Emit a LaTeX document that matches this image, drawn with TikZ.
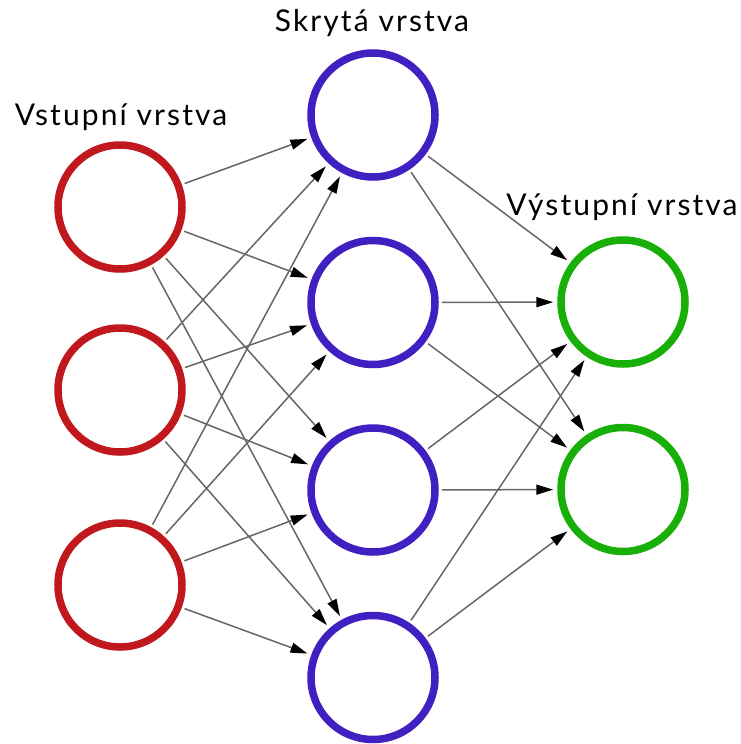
\documentclass[tikz,border=0pt]{standalone}
\usepackage{fontspec}
\setmainfont{Lato}[LetterSpace=7]
\usepackage{xcolor}
\usetikzlibrary{arrows.meta}

\definecolor{inred}{RGB}{192,24,28}
\definecolor{hidblue}{RGB}{64,32,192}
\definecolor{outgreen}{RGB}{24,176,8}

\begin{document}
\begin{tikzpicture}[x=1pt, y=-1pt, node distance=187.5pt,
  neuron/.style={circle, minimum size=124pt, line width=7.5pt},
  layername/.style={anchor=base, font=\fontsize{30}{36}\selectfont},
  conn/.style={black!60, line width=1.5pt, shorten <=3pt, shorten >=4pt,
    -{Triangle[length=17pt, width=10pt, color=black]}}]
\useasboundingbox (0,0) rectangle (740,744);

% vstupni vrstva
\node (in1) [neuron, draw=inred] at (120,207) {};
\node (in2) [neuron, draw=inred] at (120,390) {};
\node (in3) [neuron, draw=inred] at (120,585) {};

% skryta vrstva
\node (hid1) [neuron, draw=hidblue] at (373,115) {};
\node (hid2) [neuron, draw=hidblue, below of=hid1] {};
\node (hid3) [neuron, draw=hidblue, below of=hid2] {};
\node (hid4) [neuron, draw=hidblue, below of=hid3] {};

% vystupni vrstva
\node (out1) [neuron, draw=outgreen] at (623,302) {};
\node (out2) [neuron, draw=outgreen, below of=out1] {};

\node (inname) [layername] at (121,125) {Vstupní vrstva};
\node (hidname) [layername] at (372,31) {Skrytá vrstva};
\node (outname) [layername] at (622,215) {Výstupní vrstva};

\foreach \i in {1,2,3}
  \foreach \h in {1,...,4}
    \draw[conn] (in\i) -- (hid\h);
\foreach \h in {1,...,4}
  \foreach \o in {1,2}
    \draw[conn] (hid\h) -- (out\o);

\end{tikzpicture}
\end{document}
